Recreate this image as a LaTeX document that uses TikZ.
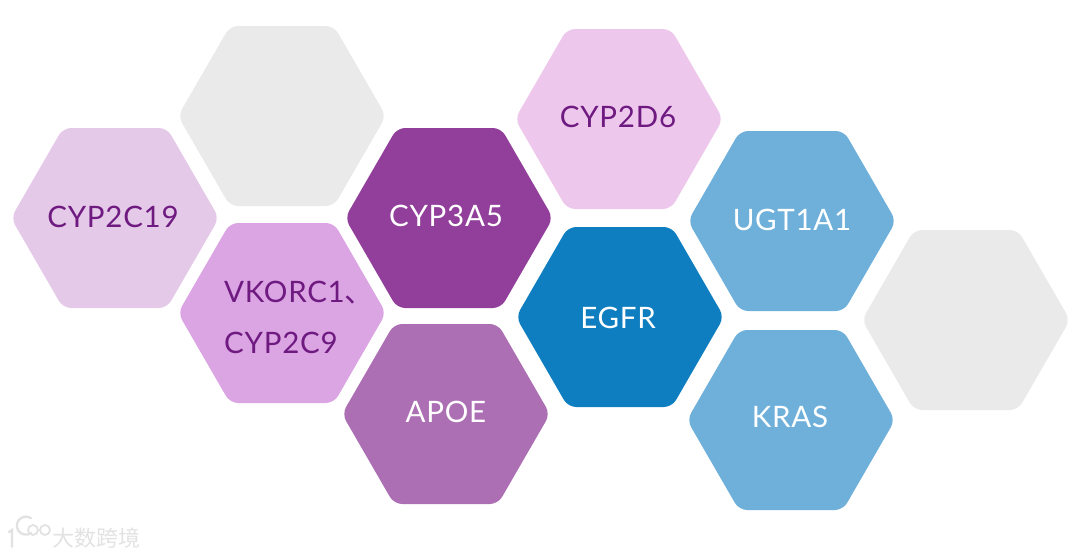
\documentclass[tikz,border=0pt]{standalone}
\usepackage{fontspec}
\setmainfont[LetterSpace=2.5]{Lato}
\newfontfamily\cjkf{Noto Sans CJK SC}
\definecolor{cgray}{HTML}{EAEAEA}
\definecolor{cc19}{HTML}{E5C9E8}
\definecolor{cvk}{HTML}{DBA5E3}
\definecolor{c3a5}{HTML}{923F9B}
\definecolor{capoe}{HTML}{AD6FB4}
\definecolor{c2d6}{HTML}{EEC8EC}
\definecolor{cegfr}{HTML}{0F7EC1}
\definecolor{cblue}{HTML}{6FB0DA}
\definecolor{dtext}{HTML}{6E1A80}
\definecolor{wm}{HTML}{E2E2E2}
\tikzset{
  hexfill/.style={rounded corners=8pt,draw=none},
  lab/.style={font=\fontsize{29.5}{31}\selectfont,inner sep=0pt,anchor=center},
  dark/.style={lab,text=dtext},
  light/.style={lab,text=white},
  wmark/.style={text=wm,font=\cjkf\fontsize{22}{24}\selectfont,inner sep=0pt},
}
\newcommand{\hexa}[4]{%
  \fill[hexfill,#4] (#2-104,#3) -- (#2-52,#3-90) -- (#2+52,#3-90) -- (#2+104,#3) -- (#2+52,#3+90) -- (#2-52,#3+90) -- cycle;
  \coordinate (#1) at (#2,#3);}
\begin{document}
\begin{tikzpicture}[x=1pt,y=-1pt]
\useasboundingbox (0,0) rectangle (1080,558);
\hexa{h1}{115}{218}{cc19}
\hexa{h2}{282}{116}{cgray}
\hexa{h3}{282}{313}{cvk}
\hexa{h4}{449}{218}{c3a5}
\hexa{h5}{446}{414}{capoe}
\hexa{h6}{619}{119}{c2d6}
\hexa{h7}{620}{317}{cegfr}
\hexa{h8}{792}{221}{cblue}
\hexa{h9}{791}{420}{cblue}
\hexa{h10}{966}{320}{cgray}
\node[dark] (t1) at (113,217) {CYP2C19};
\node[dark,anchor=west] (t3a) at (224,293) {VKORC1{\cjkf 、}};
\node[dark,anchor=west] (t3b) at (224,343) {CYP2C9};
\node[light] (t4) at (446,216) {CYP3A5};
\node[light] (t5) at (446,412) {APOE};
\node[dark] (t6) at (618,117) {CYP2D6};
\node[light] (t7) at (618,318) {EGFR};
\node[light] (t8) at (792,220) {UGT1A1};
\node[light] (t9) at (790,417) {KRAS};
\node[wmark,anchor=west] (w) at (52,538) {大数跨境};
\draw[wm,line width=2.4pt,line cap=round] (9,532) -- (12,530) -- (12,547);
\draw[wm,line width=2.4pt,line cap=round] (31,533) arc[start angle=55,end angle=305,radius=9];
\draw[wm,line width=1.8pt] (33,530) circle[radius=5];
\draw[wm,line width=1.8pt] (45,530) circle[radius=5];
\end{tikzpicture}
\end{document}
